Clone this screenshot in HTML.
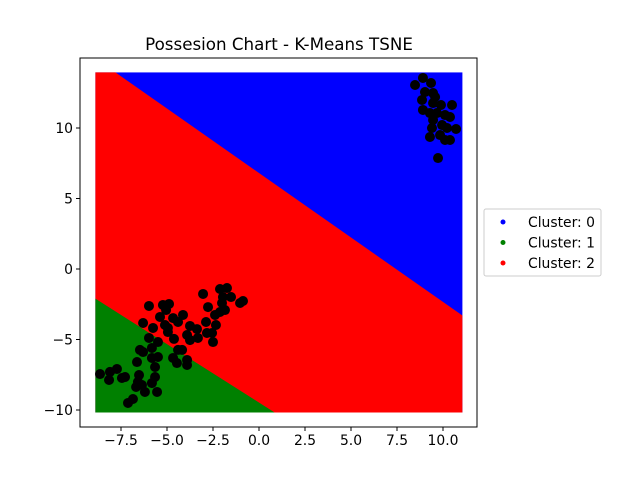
<!DOCTYPE html>
<html><head><meta charset="utf-8"><style>body{margin:0;background:#fff}svg{font-family:"DejaVu Sans","Liberation Sans",sans-serif}</style></head>
<body>
<svg id="c" width="640" height="480" xmlns="http://www.w3.org/2000/svg"></svg>
<script>
const xTicks=[-7.5,-5.0,-2.5,0.0,2.5,5.0,7.5,10.0];
const yTicks=[-10,-5,0,5,10];
const gridX=[-9,11];
const gridY=[-10,13.8];
// boundary lines (data units)
const blueRedLine=[[-7.8,13.8],[11,-3.3]];
const redGreenLine=[[-9,-2.1],[0.85,-10]];
const ptsX=[-8.64,-8.10,-7.72,-8.15,-7.45,-7.28,-7.12,-6.85,-6.68,-6.58,-6.52,-6.63,-6.47,-6.30,-5.98,-5.82,-5.82,-5.65,-5.82,-5.65,-5.54,-6.20,-6.36,-5.49,-5.49,-5.76,-6.30,-5.98,-5.38,-5.22,-5.05,-4.89,-5.11,-4.95,-4.95,-4.67,-4.62,-4.67,-4.46,-4.40,-4.18,-3.91,-3.91,-4.40,-4.13,-3.75,-3.91,-3.75,-3.37,-3.32,-3.04,-2.77,-2.88,-2.83,-2.50,-2.55,-2.34,-2.39,-2.12,-2.01,-1.96,-2.12,-1.74,-1.52,-1.85,-1.03,-0.87,
8.48,8.91,9.35,9.02,9.46,9.57,8.86,8.91,9.46,9.89,10.49,9.29,9.67,10.11,10.38,9.46,9.40,9.95,10.22,10.71,9.29,9.84,10.11,10.38,9.73];
const ptsY=[-7.45,-7.30,-7.09,-7.87,-7.73,-7.66,-9.50,-9.22,-8.37,-8.01,-7.52,-6.60,-5.74,-5.89,-4.89,-5.60,-6.31,-6.95,-8.09,-7.66,-8.72,-8.72,-8.23,-6.24,-5.18,-4.18,-3.83,-2.62,-3.40,-2.55,-2.91,-2.48,-3.97,-4.18,-4.47,-3.48,-4.96,-6.31,-6.67,-5.74,-5.74,-6.45,-6.81,-3.76,-3.26,-4.04,-4.68,-5.04,-4.26,-4.89,-1.77,-2.70,-3.76,-4.54,-5.18,-4.54,-3.97,-3.26,-3.05,-2.41,-1.99,-1.42,-1.35,-1.99,-2.91,-2.41,-2.27,
13.05,13.55,13.19,12.55,12.48,12.20,11.99,11.28,11.77,11.63,11.63,11.06,11.06,10.92,10.78,10.57,10.00,10.21,10.00,9.93,9.36,9.50,9.15,9.15,7.87];
const legendLabels=["Cluster: 0","Cluster: 1","Cluster: 2"];
const legendColors=["blue","green","red"];

const svg=document.getElementById('c');
const NS="http://www.w3.org/2000/svg";
const X=v=>259+v*18.4, Y=v=>269-v*14.1;
function mk(t,a,p){const e=document.createElementNS(NS,t);for(const k in a)e.setAttribute(k,a[k]);(p||svg).appendChild(e);return e;}
const x0=X(gridX[0])+2,x1=X(gridX[1])+1,y0=Y(gridY[1])-2,y1=Y(gridY[0])+2.5;
let e=mk('rect',{x:x0,y:y0,width:x1-x0,height:y1-y0,fill:'blue'});

const br=blueRedLine;
e=mk('polygon',{points:`${x0},${y0} ${X(br[0][0])},${y0} ${x1},${Y(br[1][1])} ${x1},${y1} ${x0},${y1}`,fill:'red'});

const rg=redGreenLine;
e=mk('polygon',{points:`${x0},${Y(rg[0][1])} ${X(rg[1][0])},${y1} ${x0},${y1}`,fill:'green'});

for(let i=0;i<ptsX.length;i++){e=mk('circle',{cx:X(ptsX[i]),cy:Y(ptsY[i]),r:5,fill:'black'});
}
e=mk('rect',{x:80,y:58,width:397,height:369,fill:'none',stroke:'#000','stroke-width':1});

xTicks.forEach(t=>{const px=X(t);mk('line',{x1:px,x2:px,y1:427,y2:431,stroke:'#000'});
e=mk('text',{x:px,y:445,'font-size':13.9,'text-anchor':'middle'});e.textContent=t.toFixed(1).replace('-','−');
});
yTicks.forEach(t=>{const py=Y(t);mk('line',{x1:76,x2:80,y1:py,y2:py,stroke:'#000'});
e=mk('text',{x:73,y:py+5,'font-size':13.9,'text-anchor':'end'});e.textContent=t.toString().replace('-','−');
});
e=mk('text',{x:279,y:50,'font-size':16.7,'text-anchor':'middle'});e.textContent='Possesion Chart - K-Means TSNE';

e=mk('rect',{x:484,y:209,width:117,height:67,rx:2,fill:'#fff',stroke:'#ccc'});

legendLabels.forEach((l,i)=>{const y=222+i*20.5;
mk('circle',{cx:503,cy:y,r:2.5,fill:legendColors[i]});
e=mk('text',{x:528,y:y+5,'font-size':13.9});e.textContent=l;
});
</script>
</body></html>
